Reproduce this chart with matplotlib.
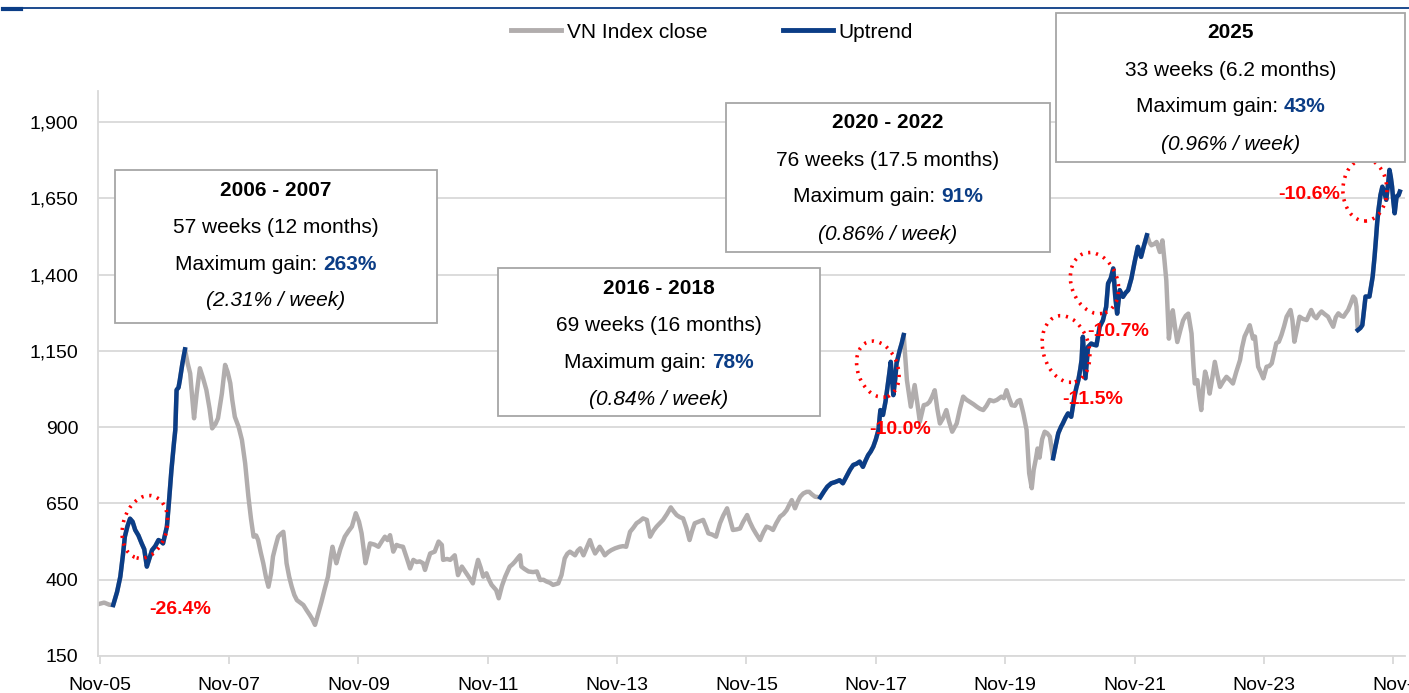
import numpy as np
import matplotlib.pyplot as plt
from matplotlib.patches import Ellipse, Rectangle
from matplotlib.lines import Line2D
from matplotlib.transforms import ScaledTranslation
from matplotlib.ticker import StrMethodFormatter

plt.rcParams['font.family'] = ['Liberation Sans', 'DejaVu Sans']

# weekly VN Index close (time in decimal years)
yr = [
    2005.83, 2005.92, 2006.00, 2006.06, 2006.12, 2006.17, 2006.21, 2006.24, 2006.28, 2006.32, 2006.36, 2006.40, 2006.45, 2006.50, 2006.54, 2006.58, 2006.62, 2006.66, 2006.71, 2006.76, 2006.80, 2006.83, 2006.89, 2006.92, 2006.96,
    2007.00, 2007.02, 2007.04, 2007.07, 2007.09, 2007.13, 2007.17, 2007.21, 2007.25, 2007.28, 2007.31, 2007.35, 2007.40, 2007.45, 2007.50, 2007.55, 2007.59, 2007.64, 2007.68, 2007.74, 2007.79, 2007.83, 2007.87, 2007.90, 2007.94,
    2008.00, 2008.05, 2008.10, 2008.15, 2008.19, 2008.23, 2008.27, 2008.30, 2008.34, 2008.38, 2008.42, 2008.46, 2008.50, 2008.53, 2008.57, 2008.61, 2008.65, 2008.69, 2008.72, 2008.74, 2008.78, 2008.82, 2008.86, 2008.90, 2008.95,
    2009.00, 2009.05, 2009.10, 2009.14, 2009.18, 2009.23, 2009.28, 2009.33, 2009.38, 2009.42, 2009.45, 2009.48, 2009.51, 2009.57, 2009.64, 2009.70, 2009.75, 2009.81, 2009.86, 2009.90, 2009.96,
    2010.00, 2010.03, 2010.10, 2010.16, 2010.21, 2010.26, 2010.30, 2010.34, 2010.39, 2010.44, 2010.49, 2010.54, 2010.60, 2010.65, 2010.70, 2010.75, 2010.80, 2010.85, 2010.88, 2010.92, 2010.96,
    2011.03, 2011.09, 2011.14, 2011.16, 2011.22, 2011.27, 2011.34, 2011.39, 2011.45, 2011.52, 2011.57, 2011.62, 2011.66, 2011.70, 2011.74, 2011.78, 2011.83, 2011.87, 2011.91, 2011.98,
    2012.02, 2012.07, 2012.12, 2012.19, 2012.23, 2012.27, 2012.31, 2012.35, 2012.37, 2012.42, 2012.48, 2012.55, 2012.61, 2012.66, 2012.71, 2012.76, 2012.81, 2012.86, 2012.94, 2012.99,
    2013.04, 2013.08, 2013.12, 2013.20, 2013.24, 2013.28, 2013.33, 2013.38, 2013.43, 2013.47, 2013.51, 2013.55, 2013.58, 2013.62, 2013.66, 2013.71, 2013.76, 2013.82, 2013.89, 2013.94, 2013.99,
    2014.05, 2014.10, 2014.15, 2014.20, 2014.25, 2014.31, 2014.36, 2014.41, 2014.46, 2014.51, 2014.56, 2014.62, 2014.68, 2014.72, 2014.77, 2014.82, 2014.87, 2014.92, 2014.97,
    2015.01, 2015.05, 2015.11, 2015.18, 2015.22, 2015.26, 2015.32, 2015.38, 2015.44, 2015.49, 2015.55, 2015.60, 2015.64, 2015.70, 2015.75, 2015.80, 2015.86, 2015.90, 2015.95,
    2016.00, 2016.06, 2016.11, 2016.16, 2016.21, 2016.26, 2016.31, 2016.37, 2016.42, 2016.47, 2016.51, 2016.55, 2016.60, 2016.64, 2016.68, 2016.73, 2016.78, 2016.82, 2016.86, 2016.91, 2016.99,
    2017.05, 2017.10, 2017.16, 2017.22, 2017.29, 2017.34, 2017.40, 2017.45, 2017.50, 2017.55, 2017.60, 2017.65, 2017.69, 2017.73, 2017.77, 2017.81, 2017.85, 2017.89, 2017.92, 2017.96,
    2018.00, 2018.03, 2018.06, 2018.08, 2018.10, 2018.12, 2018.15, 2018.17, 2018.22, 2018.25, 2018.28, 2018.33, 2018.39, 2018.45, 2018.49, 2018.53, 2018.59, 2018.64, 2018.68, 2018.72, 2018.76, 2018.80, 2018.84, 2018.89, 2018.94, 2018.98,
    2019.03, 2019.10, 2019.15, 2019.20, 2019.25, 2019.30, 2019.36, 2019.41, 2019.46, 2019.51, 2019.56, 2019.61, 2019.67, 2019.72, 2019.79, 2019.83, 2019.87, 2019.91, 2019.95,
    2020.00, 2020.04, 2020.08, 2020.13, 2020.18, 2020.22, 2020.26, 2020.29, 2020.32, 2020.35, 2020.38, 2020.42, 2020.46, 2020.50, 2020.54, 2020.59, 2020.63, 2020.67, 2020.71, 2020.74, 2020.78, 2020.82, 2020.87, 2020.92, 2020.95, 2020.98,
    2021.01, 2021.03, 2021.05, 2021.09, 2021.13, 2021.18, 2021.22, 2021.26, 2021.31, 2021.36, 2021.41, 2021.44, 2021.48, 2021.52, 2021.55, 2021.58, 2021.62, 2021.67, 2021.71, 2021.75, 2021.80, 2021.85, 2021.90, 2021.95, 2021.99,
    2022.04, 2022.08, 2022.11, 2022.15, 2022.19, 2022.24, 2022.28, 2022.31, 2022.34, 2022.38, 2022.41, 2022.44, 2022.48, 2022.51, 2022.56, 2022.60, 2022.64, 2022.68, 2022.73, 2022.76, 2022.78, 2022.82, 2022.85, 2022.88, 2022.91, 2022.94, 2022.98,
    2023.01, 2023.05, 2023.09, 2023.13, 2023.17, 2023.22, 2023.27, 2023.32, 2023.37, 2023.42, 2023.48, 2023.51, 2023.55, 2023.59, 2023.63, 2023.68, 2023.71, 2023.76, 2023.80, 2023.84, 2023.89, 2023.93, 2023.97,
    2024.04, 2024.08, 2024.12, 2024.16, 2024.20, 2024.26, 2024.29, 2024.32, 2024.36, 2024.40, 2024.45, 2024.51, 2024.55, 2024.58, 2024.62, 2024.66, 2024.70, 2024.74, 2024.79, 2024.84, 2024.88, 2024.92, 2024.96,
    2025.00, 2025.04, 2025.08, 2025.12, 2025.15, 2025.19, 2025.23, 2025.26, 2025.28, 2025.30, 2025.34, 2025.37, 2025.40, 2025.42, 2025.48, 2025.53, 2025.56, 2025.58, 2025.60, 2025.62, 2025.65, 2025.68, 2025.71, 2025.74, 2025.77, 2025.79, 2025.81, 2025.83, 2025.85, 2025.87, 2025.90, 2025.93, 2025.95,
]
close = [
    320, 325, 318, 317, 360, 410, 480, 541, 575, 600, 590, 563, 545, 519, 500, 443, 470, 497, 510, 530, 525, 519, 574, 650, 759,
    850, 891, 1022, 1030, 1054, 1109, 1155, 1110, 1076, 1000, 929, 1010, 1093, 1060, 1022, 960, 896, 910, 929, 1010, 1104, 1080, 1044, 990, 934,
    900, 858, 781, 672, 600, 541, 545, 530, 490, 454, 410, 377, 420, 476, 510, 541, 550, 557, 500, 454, 410, 377, 350, 333, 325,
    317, 300, 284, 270, 252, 290, 328, 370, 410, 470, 508, 480, 454, 500, 541, 560, 574, 618, 590, 552, 454,
    490, 519, 515, 508, 525, 541, 530, 546, 492, 514, 510, 508, 470, 437, 465, 458, 460, 454, 432, 460, 486,
    492, 525, 514, 465, 468, 465, 480, 415, 443, 421, 405, 388, 430, 465, 440, 410, 421, 400, 383, 366,
    339, 380, 410, 443, 450, 459, 470, 480, 443, 435, 427, 425, 427, 399, 400, 394, 390, 383, 388, 415,
    470, 485, 492, 480, 495, 503, 480, 505, 530, 505, 486, 498, 508, 495, 480, 490, 497, 503, 508, 510, 508,
    557, 570, 585, 592, 601, 596, 541, 560, 574, 585, 596, 615, 637, 625, 612, 605, 601, 570, 530,
    560, 585, 590, 596, 575, 552, 548, 541, 585, 610, 634, 595, 563, 565, 568, 590, 612, 590, 568,
    550, 530, 555, 574, 570, 563, 585, 607, 615, 628, 645, 661, 634, 655, 672, 683, 688, 688, 680, 672, 670,
    690, 705, 716, 720, 726, 716, 740, 760, 776, 780, 787, 770, 790, 808, 820, 836, 860, 891, 956, 940,
    985, 1032, 1080, 1114, 1060, 1005, 1060, 1109, 1153, 1175, 1202, 1054, 967, 1038, 980, 918, 972, 975, 983, 1000, 1021, 960, 912, 930, 956, 920,
    885, 912, 960, 1000, 990, 983, 975, 967, 960, 956, 970, 989, 985, 989, 1000, 995, 1021, 995, 972,
    970, 985, 989, 945, 891, 749, 700, 760, 792, 830, 800, 860, 885, 880, 869, 798, 840, 880, 900, 912, 930, 945, 934, 1000, 1030, 1054,
    1090, 1120, 1196, 1060, 1163, 1174, 1170, 1168, 1229, 1250, 1294, 1371, 1387, 1420, 1330, 1272, 1349, 1327, 1340, 1349, 1387, 1441, 1491, 1458, 1491,
    1529, 1505, 1496, 1500, 1507, 1474, 1512, 1450, 1381, 1190, 1240, 1283, 1220, 1179, 1220, 1250, 1265, 1272, 1207, 1100, 1043, 1054, 1000, 956, 1030, 1082, 1050,
    1010, 1060, 1114, 1070, 1032, 1050, 1065, 1055, 1043, 1080, 1120, 1160, 1197, 1215, 1234, 1190, 1197, 1098, 1080, 1060, 1098, 1100, 1109,
    1175, 1180, 1202, 1230, 1262, 1284, 1250, 1180, 1220, 1262, 1255, 1251, 1270, 1284, 1265, 1257, 1270, 1279, 1270, 1262, 1245, 1229, 1260,
    1273, 1265, 1262, 1275, 1284, 1305, 1328, 1320, 1295, 1218, 1225, 1234, 1290, 1328, 1328, 1393, 1460, 1513, 1570, 1612, 1660, 1688, 1670, 1645, 1700, 1743, 1720, 1688, 1640, 1601, 1656, 1660, 1672,
]

# uptrend windows (start, end) in decimal years
uptrend_start = [2006.06, 2016.99, 2020.59, 2025.30]
uptrend_end = [2007.17, 2018.28, 2022.04, 2025.95]

x_tick_labels = ['Nov-05', 'Nov-07', 'Nov-09', 'Nov-11', 'Nov-13', 'Nov-15',
                 'Nov-17', 'Nov-19', 'Nov-21', 'Nov-23', 'Nov-']

# annotation boxes
box_titles = ['2006 - 2007', '2016 - 2018', '2020 - 2022', '2025']
box_weeks = ['57 weeks (12 months)', '69 weeks (16 months)',
             '76 weeks (17.5 months)', '33 weeks (6.2 months)']
box_gain = ['263%', '78%', '91%', '43%']
box_rate = ['(2.31% / week)', '(0.84% / week)', '(0.86% / week)', '(0.96% / week)']

# drawdowns inside the uptrends
dd_text = ['-26.4%', '-10.0%', '-11.5%', '-10.7%', '-10.6%']
dd_text_x = [2007.09, 2018.22, 2021.20, 2021.59, 2024.55]
dd_text_y = [304, 891, 989, 1212, 1661]
dd_circle_x = [2006.55, 2017.88, 2020.79, 2021.23, 2025.41]
dd_circle_y = [573, 1090, 1156, 1372, 1677]

GREY = '#B1ADAD'
BLUE = '#0B3D86'
GRID = '#D9D9D9'
W, H = 1409, 693

yr = np.array(yr)
close = np.array(close)

fig = plt.figure(figsize=(W / 100, H / 100), dpi=100)
ax = fig.add_axes([98 / W, 1 - 656 / H, (1405 - 98) / W, (656 - 91.5) / H])

ax.plot(yr, close, color=GREY, lw=3.2, solid_joinstyle='round', zorder=2)
for s, e in zip(uptrend_start, uptrend_end):
    m = (yr >= s - 1e-6) & (yr <= e + 1e-6)
    ax.plot(yr[m], close[m], color=BLUE, lw=3.2, solid_joinstyle='round', zorder=3)

ax.set_xlim(2005.825, 2026.03)
ax.set_ylim(150, 2000)
ax.set_yticks(np.arange(150, 2000, 250))
ax.yaxis.set_major_formatter(StrMethodFormatter('{x:,.0f}'))
ax.set_xticks([2005.85 + 2 * i for i in range(len(x_tick_labels))])
ax.set_xticklabels(x_tick_labels)
ax.grid(axis='y', color=GRID, lw=1.3)
ax.set_axisbelow(True)
for sp in ['top', 'right']:
    ax.spines[sp].set_visible(False)
for sp in ['left', 'bottom']:
    ax.spines[sp].set_color(GRID)
    ax.spines[sp].set_linewidth(1.3)
ax.tick_params(axis='y', length=0, pad=14, labelsize=14)
ax.tick_params(axis='x', length=6, color=GRID, width=1.3, pad=9, labelsize=14)

# red dotted circles and drawdown labels
ell_w = [44, 40, 46, 46, 44]
ell_h = [64, 58, 68, 63, 62]
ell_a = [-15, 20, 15, 20, 0]
for i in range(len(dd_text)):
    tr = fig.dpi_scale_trans + ScaledTranslation(dd_circle_x[i], dd_circle_y[i], ax.transData)
    ax.add_patch(Ellipse((0, 0), ell_w[i] / 100, ell_h[i] / 100, angle=ell_a[i],
                         transform=tr, fill=False, ec='#FF0000', lw=2.6,
                         ls=(0, (0.6, 1.6)), zorder=4))
    ax.text(dd_text_x[i], dd_text_y[i], dd_text[i], color='#FF0000', fontsize=14,
            weight='bold', ha='center', va='center', zorder=5)

# text boxes (pixel positions: left, top, right, bottom)
box_pos = [(115, 170, 437, 323), (498, 268, 820, 416), (726, 103, 1050, 252), (1056, 13, 1405, 162)]
renderer = fig.canvas.get_renderer()
for i, (x0, y0, x1, y1) in enumerate(box_pos):
    fig.add_artist(Rectangle((x0 / W, 1 - y1 / H), (x1 - x0) / W, (y1 - y0) / H,
                             transform=fig.transFigure, fc='white', ec='#A6A6A6',
                             lw=1.3, zorder=6))
    cx = (x0 + x1) / 2
    ys = [y0 + 20, y0 + 57, y0 + 94, y0 + 131]
    fig.text(cx / W, 1 - ys[0] / H, box_titles[i], fontsize=15, weight='bold',
             ha='center', va='center', zorder=7)
    fig.text(cx / W, 1 - ys[1] / H, box_weeks[i], fontsize=15,
             ha='center', va='center', zorder=7)
    t1 = fig.text(0, 1 - ys[2] / H, 'Maximum gain: ', fontsize=15, ha='left', va='center', zorder=7)
    t2 = fig.text(0, 1 - ys[2] / H, box_gain[i], fontsize=15, weight='bold', color=BLUE,
                  ha='left', va='center', zorder=7)
    w1 = t1.get_window_extent(renderer).width
    w2 = t2.get_window_extent(renderer).width
    start = cx - (w1 + w2) / 2
    t1.set_x(start / W)
    t2.set_x((start + w1) / W)
    fig.text(cx / W, 1 - ys[3] / H, box_rate[i], fontsize=15, style='italic',
             ha='center', va='center', zorder=7)

# legend
handles = [Line2D([], [], color=GREY, lw=3.5), Line2D([], [], color=BLUE, lw=3.5)]
fig.legend(handles, ['VN Index close', 'Uptrend'], loc='center',
           bbox_to_anchor=(712 / W, 1 - 32 / H), ncol=2, frameon=False, fontsize=15,
           handlelength=2.4, handletextpad=0.3, columnspacing=3.6, borderpad=0)

# header rule at the very top
fig.add_artist(Line2D([20 / W, 1], [1 - 8 / H, 1 - 8 / H], color='#0B3D86', lw=1.3))
fig.add_artist(Line2D([3 / W, 21 / W], [1 - 9 / H, 1 - 9 / H], color='#0B3D86', lw=3))

fig.savefig('out.png', dpi=100)
